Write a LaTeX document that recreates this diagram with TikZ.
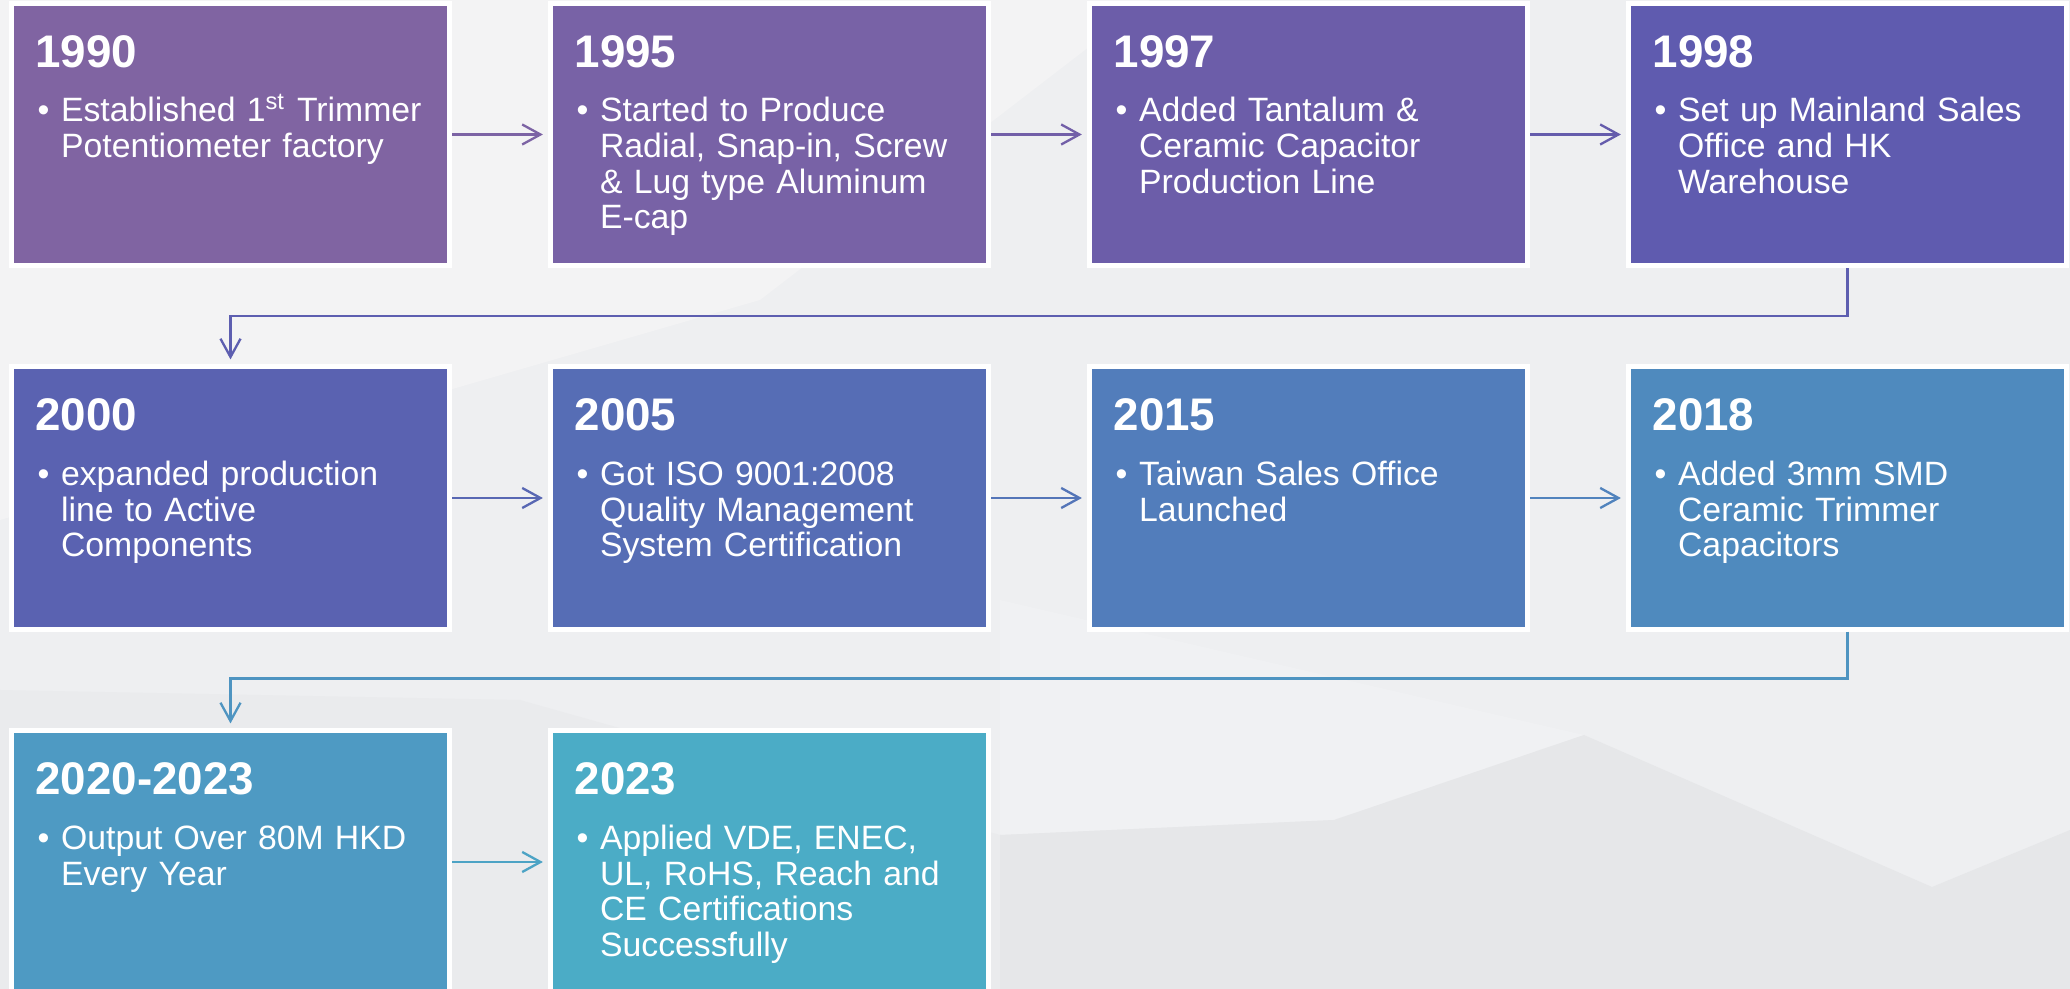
\documentclass[tikz,border=0pt]{standalone}
\usepackage{fontspec}
\setmainfont{Liberation Sans}
\usetikzlibrary{arrows.meta}

\definecolor{bg}{HTML}{EEEFF1}
\definecolor{bglight}{HTML}{F3F3F4}
\definecolor{bgdark}{HTML}{E6E7E9}
\definecolor{c1}{HTML}{8064A2}
\definecolor{c2}{HTML}{7862A6}
\definecolor{c3}{HTML}{6C5DA9}
\definecolor{c4}{HTML}{5F5BAF}
\definecolor{c5}{HTML}{5A62B1}
\definecolor{c6}{HTML}{566DB5}
\definecolor{c7}{HTML}{527DBB}
\definecolor{c8}{HTML}{4F8ABE}
\definecolor{c9}{HTML}{4E9AC3}
\definecolor{c10}{HTML}{4BACC6}

\tikzset{
  card/.style={draw=white, line width=1.42pt, minimum width=4.38cm, minimum height=2.62cm, inner sep=0pt},
  yeartext/.style={anchor=base west, inner sep=0pt, text=white, font=\bfseries\fontsize{13pt}{15pt}\selectfont},
  dot/.style={anchor=base west, inner sep=0pt, text=white, font=\fontsize{9.6pt}{10.15pt}\selectfont},
  bodytext/.style={anchor=base west, inner sep=0pt, text=white, text width=3.9cm, align=left, font=\fontsize{9.6pt}{10.15pt}\selectfont},
  link/.style={line width=0.66pt, shorten >=0.05cm, -{Straight Barb[length=5.2pt,width=5.7pt]}}
}

\begin{document}
\begin{tikzpicture}[x=0.01cm, y=-0.01cm]
  \useasboundingbox (0,0) rectangle (2070,989);
  \clip (0,0) rectangle (2070,989);
  % background
  \fill[bg] (0,0) rectangle (2070,989);
  \fill[bglight] (0,0) -- (1150,0) -- (760,300) -- (0,520) -- cycle;
  \fill[bglight!50!bg] (1000,600) -- (1584,735) -- (1334,820) -- (1000,835) -- cycle;
  \fill[bgdark] (1000,835) -- (1334,820) -- (1584,735) -- (1932,887) -- (2070,830) -- (2070,989) -- (1000,989) -- cycle;
  \fill[bgdark!50!bg] (0,690) -- (520,700) -- (1000,835) -- (1000,989) -- (0,989) -- cycle;

  % milestones
  \foreach \i/\x/\y/\yr/\txt in {
    1/230.5/134.5/1990/{Established 1\textsuperscript{st} Trimmer\\Potentiometer factory},
    2/769.5/134.5/1995/{Started to Produce\\Radial, Snap-in, Screw\\\& Lug type Aluminum\\E-cap},
    3/1308.5/134.5/1997/{Added Tantalum \&\\Ceramic Capacitor\\Production Line},
    4/1847.5/134.5/1998/{Set up Mainland Sales\\Office and HK\\Warehouse},
    5/230.5/498/2000/{expanded production\\line to Active\\Components},
    6/769.5/498/2005/{Got ISO 9001:2008\\Quality Management\\System Certification},
    7/1308.5/498/2015/{Taiwan Sales Office\\Launched},
    8/1847.5/498/2018/{Added 3mm SMD\\Ceramic Trimmer\\Capacitors},
    9/230.5/862/2020-2023/{Output Over 80M HKD\\Every Year},
    10/769.5/862/2023/{Applied VDE, ENEC,\\UL, RoHS, Reach and\\CE Certifications\\Successfully}}
  {
    \node[card, fill=c\i] (b\i) at (\x,\y) {};
    \node[yeartext] (y\i) at ([shift={(26,66.5)}]b\i.north west) {\yr};
    \node[dot] (d\i) at ([shift={(28,121)}]b\i.north west) {\textbullet};
    \node[bodytext] (t\i) at ([shift={(51.5,121)}]b\i.north west) {\txt};
  }

  % arrows
  \foreach \a/\b in {1/2,2/3,3/4,5/6,6/7,7/8,9/10}
    \draw[link, draw=c\a!50!c\b] (b\a.east) -- (b\b.west);
  \draw[link, draw=c4!50!c5] (b4.south) -- ++(0,48) -| (b5.north);
  \draw[link, draw=c8!40!c9] (b8.south) -- ++(0,47) -| (b9.north);
\end{tikzpicture}
\end{document}
